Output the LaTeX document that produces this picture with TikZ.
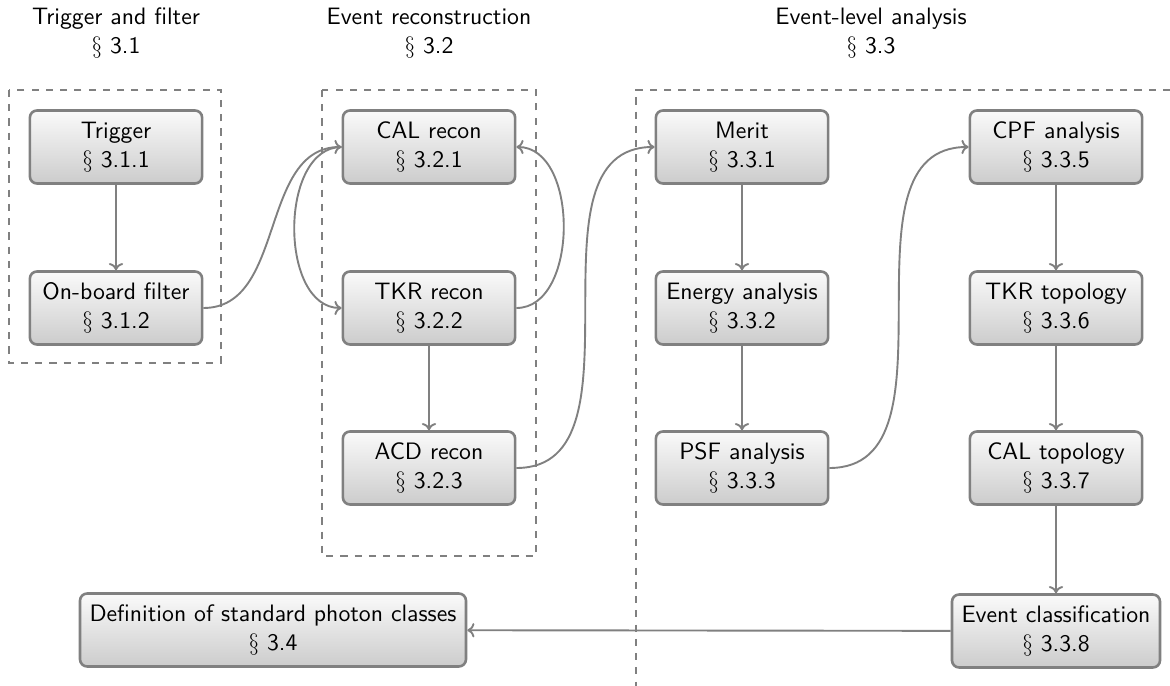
\documentclass[tikz,border=0pt]{standalone}
\usetikzlibrary{arrows.meta}
\begin{document}
\begin{tikzpicture}[x=0.0148cm,y=-0.0148cm,
  font=\sffamily,
  stepbox/.style={draw=gray, line width=1.1pt, rounded corners=3pt,
    top color=black!2, bottom color=black!20, align=center,
    minimum width=2.55cm, minimum height=1.08cm, inner sep=4pt},
  title/.style={align=center},
  conn/.style={draw=gray, line width=0.8pt, -{To[length=3pt,width=6pt]}},
  group/.style={draw=gray, line width=0.8pt, dashed}]
\useasboundingbox (0,0) rectangle (1170,686);

% group frames
\draw[group] (9,90) rectangle (221,363);
\draw[group] (322,90) rectangle (536,556);
\draw[group] (1170,90) -- (636,90) -- (636,686);

% titles
\node[title] (t1) at (116,33) {Trigger and filter\\$\S$ 3.1};
\node[title] (t2) at (429,33) {Event reconstruction\\$\S$ 3.2};
\node[title] (t3) at (871,33) {Event-level analysis\\$\S$ 3.3};

% nodes
\node[stepbox] (trig)   at (116,147) {Trigger\\$\S$ 3.1.1};
\node[stepbox] (filt)   at (116,308) {On-board filter\\$\S$ 3.1.2};
\node[stepbox] (cal)    at (429,147) {CAL recon\\$\S$ 3.2.1};
\node[stepbox] (tkr)    at (429,308) {TKR recon\\$\S$ 3.2.2};
\node[stepbox] (acd)    at (429,468) {ACD recon\\$\S$ 3.2.3};
\node[stepbox] (merit)  at (742,147) {Merit\\$\S$ 3.3.1};
\node[stepbox] (energy) at (742,308) {Energy analysis\\$\S$ 3.3.2};
\node[stepbox] (psf)    at (742,468) {PSF analysis\\$\S$ 3.3.3};
\node[stepbox] (cpf)    at (1056,147) {CPF analysis\\$\S$ 3.3.5};
\node[stepbox] (tkrt)   at (1056,308) {TKR topology\\$\S$ 3.3.6};
\node[stepbox] (calt)   at (1056,468) {CAL topology\\$\S$ 3.3.7};
\node[stepbox] (evcl)   at (1056,631) {Event classification\\$\S$ 3.3.8};
\node[stepbox] (def)    at (273,630) {Definition of standard photon classes\\$\S$ 3.4};

% connectors
\draw[conn] (trig) -- (filt);
\draw[conn] (filt.east) to[out=0,in=180] (cal.west);
\draw[conn] (cal.west) to[out=180,in=180] (tkr.west);
\draw[conn] (tkr.east) to[out=0,in=0] (cal.east);
\draw[conn] (tkr) -- (acd);
\draw[conn] (acd.east) to[out=0,in=180] (merit.west);
\draw[conn] (merit) -- (energy);
\draw[conn] (energy) -- (psf);
\draw[conn] (psf.east) to[out=0,in=180] (cpf.west);
\draw[conn] (cpf) -- (tkrt);
\draw[conn] (tkrt) -- (calt);
\draw[conn] (calt) -- (evcl);
\draw[conn] (evcl) -- (def);
\end{tikzpicture}
\end{document}
